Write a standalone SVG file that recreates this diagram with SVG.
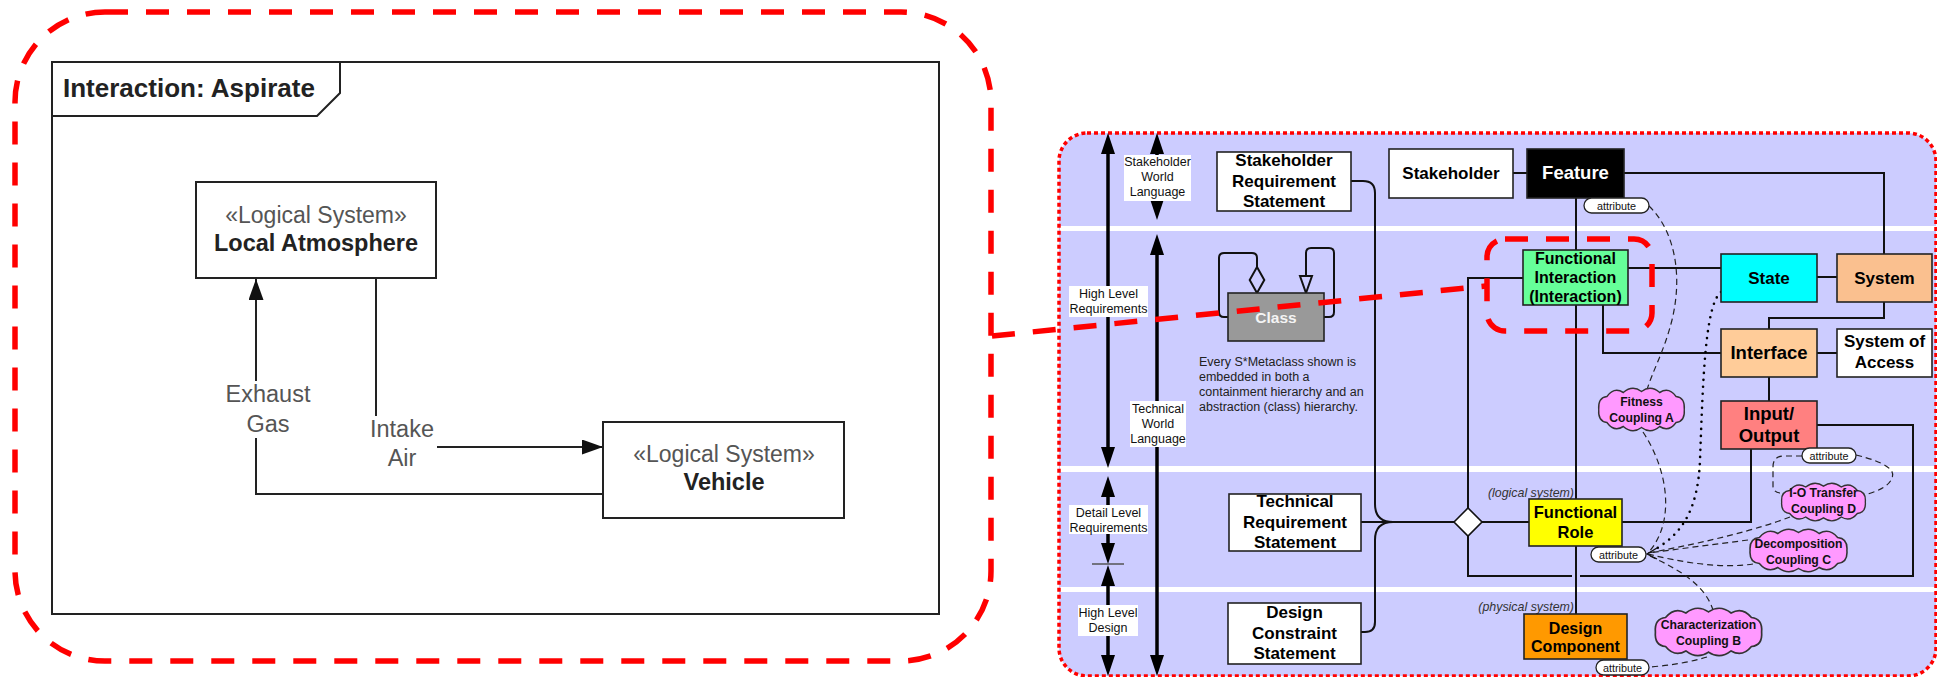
<svg xmlns="http://www.w3.org/2000/svg" width="1937" height="677" viewBox="0 0 1937 677">
<defs>
<style>
text{font-family:"Liberation Sans",Arial,Helvetica,sans-serif;}
.frame{fill:none;stroke:#222;stroke-width:2;}
.lbox{fill:#fff;stroke:#222;stroke-width:2;}
.stereo{font-size:23px;fill:#555;text-anchor:middle;}
.lname{font-size:23.5px;font-weight:bold;fill:#222;text-anchor:middle;}
.flow{font-size:23.5px;fill:#555;text-anchor:middle;}
.lconn{fill:none;stroke:#222;stroke-width:2;}
.box{stroke:#222;stroke-width:1.6;}
.bt{font-weight:bold;fill:#000;text-anchor:middle;}
.conn{fill:none;stroke:#111;stroke-width:2;}
.thick{fill:none;stroke:#000;stroke-width:3.5;marker-start:url(#big);marker-end:url(#big);}
.tag{fill:#fff;}
.tagt{font-size:12.5px;fill:#111;text-anchor:middle;}
.pill{fill:#fff;stroke:#222;stroke-width:1.3;}
.pillt{font-size:10.8px;fill:#111;text-anchor:middle;}
.cloud{fill:#FF99FF;stroke:#333;stroke-width:1.5;}
.ct{font-size:12.2px;font-weight:bold;fill:#111;text-anchor:middle;}
.dash{fill:none;stroke:#222;stroke-width:1.2;stroke-dasharray:6 4;}
.note{font-size:12.5px;fill:#222;}
.ital{font-size:12.4px;font-style:italic;fill:#333;text-anchor:end;}
.red{fill:none;stroke:#FF0000;stroke-width:5.5;stroke-dasharray:23 18;}
</style>
<marker id="tri" markerUnits="userSpaceOnUse" markerWidth="22" markerHeight="16" refX="21" refY="7.5" orient="auto">
<path d="M0,0 L21,7.5 L0,15 Z" fill="#111"/>
</marker>
<marker id="big" markerUnits="userSpaceOnUse" markerWidth="22" markerHeight="15" refX="0" refY="7" orient="auto-start-reverse">
<path d="M0,0 L21,7 L0,14 Z" fill="#000"/>
</marker>
<path id="cloudShape" d="M3,20 Q2,8 12,7 Q20,-3 30,3 Q40,-5 50,2 Q60,-5 70,3 Q80,-3 88,7 Q98,8 97,20 Q98,32 88,33 Q80,43 70,37 Q60,45 50,38 Q40,45 30,37 Q20,43 12,33 Q2,32 3,20 Z"/>
</defs>
<rect x="0" y="0" width="1937" height="677" fill="#fff"/>

<!-- LEFT PANEL -->
<g id="interaction-frame">
<rect class="frame" x="52" y="62" width="887" height="552" fill="#fff"/>
<path class="frame" d="M52,116 L317,116 L340,93 L340,62"/>
<text x="63" y="97" font-size="26" font-weight="bold" fill="#222">Interaction: Aspirate</text>
</g>

<g id="left-connectors">
<path class="lconn" d="M603,494 L256,494 L256,279" marker-end="url(#tri)"/>
<path class="lconn" d="M376,278 L376,447 L603,447" marker-end="url(#tri)"/>
<rect x="224" y="381" width="88" height="57" fill="#fff"/>
<text class="flow" x="268" y="402">Exhaust</text>
<text class="flow" x="268" y="432">Gas</text>
<rect x="366" y="416" width="71" height="56" fill="#fff"/>
<text class="flow" x="402" y="437">Intake</text>
<text class="flow" x="402" y="466">Air</text>
</g>

<g id="local-atmosphere">
<rect class="lbox" x="196" y="182" width="240" height="96"/>
<text class="stereo" x="316" y="223">«Logical System»</text>
<text class="lname" x="316" y="251">Local Atmosphere</text>
</g>

<g id="vehicle">
<rect class="lbox" x="603" y="422" width="241" height="96"/>
<text class="stereo" x="724" y="462">«Logical System»</text>
<text class="lname" x="724" y="490">Vehicle</text>
</g>

<g id="left-highlight">
<rect class="red" x="15" y="12" width="976" height="649" rx="90"/>
</g>

<!-- RIGHT PANEL -->
<g id="metamodel-panel">
<rect x="1059" y="133" width="877" height="543" rx="28" fill="#CCCCFF"/>
<rect x="1060" y="226" width="876" height="5" fill="#fff"/>
<rect x="1060" y="466" width="876" height="6" fill="#fff"/>
<rect x="1060" y="587" width="876" height="5" fill="#fff"/>
<rect x="1059" y="133" width="877" height="543" rx="28" fill="none" stroke="#FF0000" stroke-width="3.5" stroke-dasharray="4 3"/>
</g>

<g id="level-arrows">
<path class="thick" d="M1108,154 L1108,447"/>
<path class="thick" d="M1157,154 L1157,199"/>
<path class="thick" d="M1157,255 L1157,655"/>
<path class="thick" d="M1108,497 L1108,543"/>
<path class="thick" d="M1108,586 L1108,655"/>
<line x1="1092" y1="564" x2="1124" y2="564" stroke="#555" stroke-width="1.5"/>
<rect class="tag" x="1124" y="155" width="67" height="46"/>
<text class="tagt" x="1157.5" y="166">Stakeholder</text>
<text class="tagt" x="1157.5" y="181">World</text>
<text class="tagt" x="1157.5" y="196">Language</text>
<rect class="tag" x="1069" y="286" width="79" height="31"/>
<text class="tagt" x="1108.5" y="298">High Level</text>
<text class="tagt" x="1108.5" y="313">Requirements</text>
<rect class="tag" x="1130" y="401" width="56" height="46"/>
<text class="tagt" x="1158" y="413">Technical</text>
<text class="tagt" x="1158" y="428">World</text>
<text class="tagt" x="1158" y="443">Language</text>
<rect class="tag" x="1069" y="505" width="79" height="29"/>
<text class="tagt" x="1108.5" y="517">Detail Level</text>
<text class="tagt" x="1108.5" y="532">Requirements</text>
<rect class="tag" x="1078" y="605" width="60" height="31"/>
<text class="tagt" x="1108" y="617">High Level</text>
<text class="tagt" x="1108" y="632">Design</text>
</g>

<g id="connectors">
<path class="conn" d="M1513,173 L1527,173"/>
<path class="conn" d="M1624,173 L1884,173 L1884,254"/>
<path class="conn" d="M1576,198 L1576,250"/>
<path class="conn" d="M1628,268 L1721,268"/>
<path class="conn" d="M1817,277 L1837,277"/>
<path class="conn" d="M1884,302 L1884,318 L1769,318 L1769,329"/>
<path class="conn" d="M1603,305 L1603,353 L1721,353"/>
<path class="conn" d="M1817,353 L1837,353"/>
<path class="conn" d="M1769,377 L1769,401"/>
<path class="conn" d="M1751,449 L1751,522 L1622,522"/>
<path class="conn" d="M1576,305 L1576,499"/>
<path class="conn" d="M1576,546 L1576,614"/>
<path class="conn" d="M1523,278 L1468,278 L1468,508"/>
<path class="conn" d="M1482,522 L1529,522"/>
<path class="conn" d="M1468,536 L1468,576 L1572,576 M1580,576 L1913,576 L1913,425 L1817,425"/>
<path class="conn" d="M1351,181 L1363,181 Q1375,181 1375,193 L1375,504 Q1375,522 1393,522 L1454,522"/>
<path class="conn" d="M1361,632 L1365,632 Q1375,632 1375,622 L1375,540 Q1375,522 1393,522"/>
<path class="conn" d="M1361,522 L1454,522"/>
<path class="conn" d="M1228,317 L1224,317 Q1219,317 1219,312 L1219,258 Q1219,253 1224,253 L1252,253 Q1257,253 1257,258 L1257,267"/>
<path d="M1257,267 L1264.3,280 L1257,293 L1249.7,280 Z" fill="none" stroke="#111" stroke-width="2"/>
<path class="conn" d="M1324,317 L1329,317 Q1334,317 1334,312 L1334,253 Q1334,248 1329,248 L1311,248 Q1306,248 1306,253 L1306,276"/>
<path d="M1300,276 L1312,276 L1306,293 Z" fill="none" stroke="#111" stroke-width="2"/>
<!-- dashed attribute couplings -->
<path class="dash" d="M1649,206 C1672,228 1684,270 1672,320 C1664,352 1652,372 1647,390"/>
<path class="dash" d="M1643,432 C1668,470 1676,522 1648,553"/>
<path d="M1721,292 C1705,305 1703,380 1700,460 C1698,510 1682,535 1652,551" fill="none" stroke="#000" stroke-width="2.6" stroke-linecap="round" stroke-dasharray="0 7"/>
<path class="dash" d="M1790,517 Q1740,536 1648,553"/>
<path class="dash" d="M1748,540 L1648,553"/>
<path class="dash" d="M1753,564 C1720,569 1680,562 1648,554"/>
<path class="dash" d="M1650,556 C1680,570 1705,585 1713,610"/>
<path class="dash" d="M1707,657 Q1680,665 1649,667"/>
<path class="dash" d="M1802,456 L1784,456 Q1773,456 1773,467 L1773,486 Q1773,492 1780,493"/>
<path class="dash" d="M1856,455 C1885,462 1896,470 1892,478 C1889,486 1880,490 1868,494"/>
<path d="M1657,548 L1647,554 L1657,559" fill="none" stroke="#111" stroke-width="1.3"/>
</g>

<g id="diamond">
<path d="M1454,522 L1468,508 L1482,522 L1468,536 Z" fill="#fff" stroke="#111" stroke-width="1.6"/>
</g>

<g id="stakeholder-requirement-statement">
<rect class="box" x="1217" y="152" width="134" height="59" fill="#fff"/>
<text class="bt" font-size="17" x="1284" y="166">Stakeholder</text>
<text class="bt" font-size="17" x="1284" y="187">Requirement</text>
<text class="bt" font-size="17" x="1284" y="207">Statement</text>
</g>
<g id="stakeholder">
<rect class="box" x="1389" y="149" width="124" height="49" fill="#fff"/>
<text class="bt" font-size="17" x="1451" y="179">Stakeholder</text>
</g>
<g id="feature">
<rect class="box" x="1527" y="149" width="97" height="49" fill="#000"/>
<text class="bt" font-size="18.5" x="1575.5" y="179" fill="#fff" style="fill:#fff">Feature</text>
</g>
<g id="feature-attribute">
<rect class="pill" x="1584" y="198" width="65" height="15" rx="7.5"/>
<text class="pillt" x="1616.5" y="209.5">attribute</text>
</g>
<g id="functional-interaction">
<rect class="box" x="1523" y="250" width="105" height="55" fill="#66FF99"/>
<text class="bt" font-size="16" x="1575.5" y="264">Functional</text>
<text class="bt" font-size="16" x="1575.5" y="283">Interaction</text>
<text class="bt" font-size="16" x="1575.5" y="302">(Interaction)</text>
</g>
<g id="state">
<rect class="box" x="1721" y="254" width="96" height="48" fill="#00FFFF"/>
<text class="bt" font-size="17" x="1769" y="284">State</text>
</g>
<g id="system">
<rect class="box" x="1837" y="254" width="95" height="48" fill="#FAC08F"/>
<text class="bt" font-size="17" x="1884.5" y="284">System</text>
</g>
<g id="interface">
<rect class="box" x="1721" y="329" width="96" height="48" fill="#FFCC99"/>
<text class="bt" font-size="18.5" x="1769" y="359">Interface</text>
</g>
<g id="system-of-access">
<rect class="box" x="1837" y="329" width="95" height="48" fill="#fff"/>
<text class="bt" font-size="17" x="1884.5" y="347">System of</text>
<text class="bt" font-size="17" x="1884.5" y="368">Access</text>
</g>
<g id="input-output">
<rect class="box" x="1721" y="401" width="96" height="48" fill="#FF8080"/>
<text class="bt" font-size="18.5" x="1769" y="420">Input/</text>
<text class="bt" font-size="18.5" x="1769" y="442">Output</text>
</g>
<g id="io-attribute">
<rect class="pill" x="1802" y="448" width="54" height="15" rx="7.5"/>
<text class="pillt" x="1829" y="459.5">attribute</text>
</g>
<g id="class">
<rect class="box" x="1228" y="293" width="96" height="48" fill="#999999"/>
<text class="bt" font-size="15.5" x="1276" y="323" style="fill:#f4f4f4">Class</text>
</g>
<g id="class-note">
<text class="note" x="1199" y="366">Every S*Metaclass shown is</text>
<text class="note" x="1199" y="381">embedded in both a</text>
<text class="note" x="1199" y="396">containment hierarchy and an</text>
<text class="note" x="1199" y="411">abstraction (class) hierarchy.</text>
</g>
<g id="technical-requirement-statement">
<rect class="box" x="1229" y="494" width="132" height="57" fill="#fff"/>
<text class="bt" font-size="17" x="1295" y="507">Technical</text>
<text class="bt" font-size="17" x="1295" y="528">Requirement</text>
<text class="bt" font-size="17" x="1295" y="548">Statement</text>
</g>
<g id="design-constraint-statement">
<rect class="box" x="1228" y="603" width="133" height="61" fill="#fff"/>
<text class="bt" font-size="17" x="1294.5" y="618">Design</text>
<text class="bt" font-size="17" x="1294.5" y="639">Constraint</text>
<text class="bt" font-size="17" x="1294.5" y="659">Statement</text>
</g>
<g id="functional-role">
<text class="ital" x="1574" y="497">(logical system)</text>
<rect class="box" x="1529" y="499" width="93" height="47" fill="#FFFF00"/>
<text class="bt" font-size="16.5" x="1575.5" y="518">Functional</text>
<text class="bt" font-size="16.5" x="1575.5" y="538">Role</text>
</g>
<g id="fr-attribute">
<rect class="pill" x="1591" y="547" width="55" height="15" rx="7.5"/>
<text class="pillt" x="1618.5" y="558.5">attribute</text>
</g>
<g id="design-component">
<text class="ital" x="1574" y="611">(physical system)</text>
<rect class="box" x="1524" y="614" width="103" height="45" fill="#FF9900"/>
<text class="bt" font-size="16" x="1575.5" y="634">Design</text>
<text class="bt" font-size="16" x="1575.5" y="652">Component</text>
</g>
<g id="dc-attribute">
<rect class="pill" x="1596" y="660" width="53" height="15" rx="7.5"/>
<text class="pillt" x="1622.5" y="671.5">attribute</text>
</g>
<g id="fitness-coupling-a">
<use href="#cloudShape" class="cloud" transform="translate(1596,388) scale(0.91,1) translate(0,1.5)" vector-effect="non-scaling-stroke"/>
<text class="ct" x="1641.5" y="406">Fitness</text>
<text class="ct" x="1641.5" y="422">Coupling A</text>
</g>
<g id="io-transfer-coupling-d">
<use href="#cloudShape" class="cloud" transform="translate(1779,483) scale(0.89,0.884) translate(0,1.5)"/>
<text class="ct" x="1823.5" y="497">I-O Transfer</text>
<text class="ct" x="1823.5" y="513">Coupling D</text>
</g>
<g id="decomposition-coupling-c">
<use href="#cloudShape" class="cloud" transform="translate(1747,529) scale(1.03,1) translate(0,1.5)"/>
<text class="ct" x="1798.5" y="548">Decomposition</text>
<text class="ct" x="1798.5" y="564">Coupling C</text>
</g>
<g id="characterization-coupling-b">
<use href="#cloudShape" class="cloud" transform="translate(1652,608) scale(1.13,1.116) translate(0,1.5)"/>
<text class="ct" x="1708.5" y="629">Characterization</text>
<text class="ct" x="1708.5" y="645">Coupling B</text>
</g>

<g id="highlight">
<rect class="red" x="1487" y="239" width="165" height="92" rx="18"/>
<line class="red" x1="992" y1="336" x2="1486" y2="286"/>
</g>
</svg>
